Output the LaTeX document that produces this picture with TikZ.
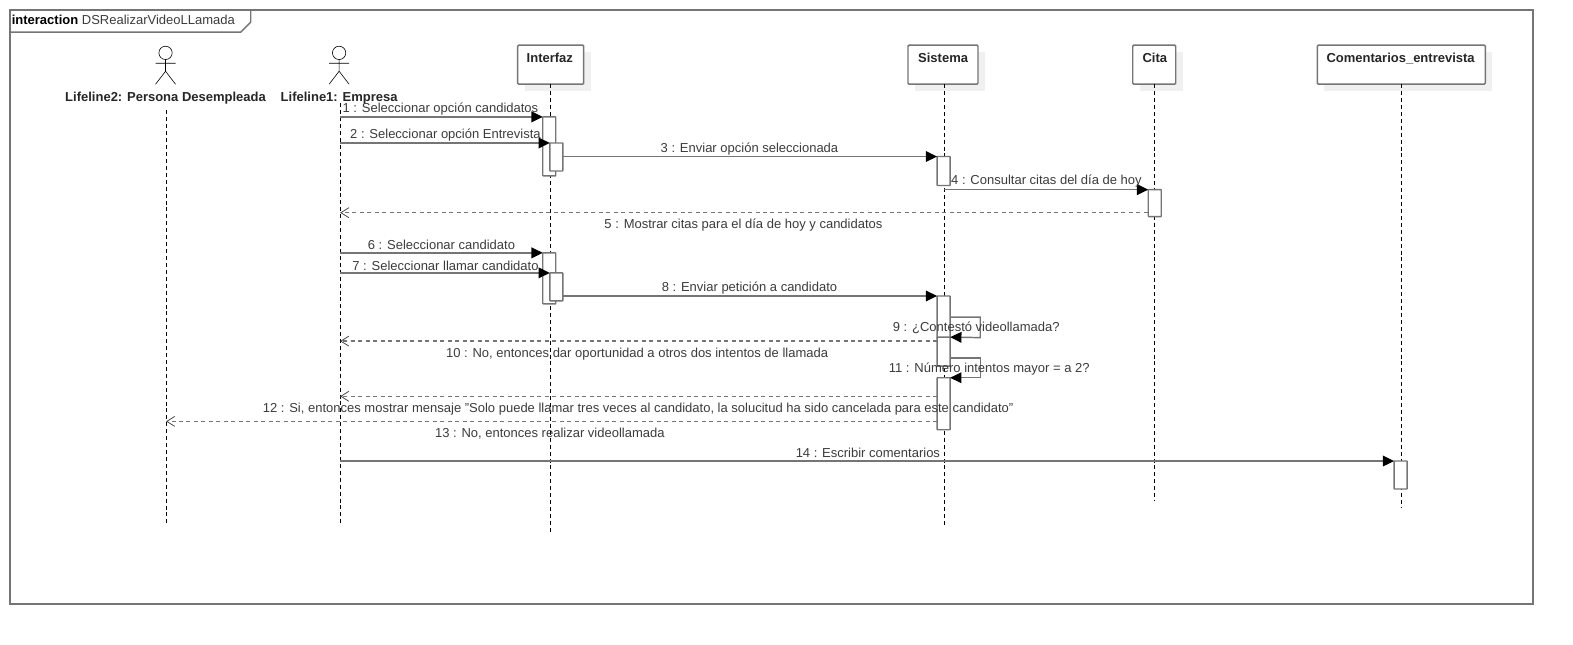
\documentclass[tikz,border=0pt]{standalone}
\usepackage{fontspec}
\setmainfont{Liberation Sans}
\usetikzlibrary{arrows.meta,calc}
\definecolor{umlgray}{HTML}{757575}
\definecolor{shadowgray}{HTML}{F0F0F0}
\definecolor{labelgray}{HTML}{3C3C3C}
\tikzset{
  x=0.7525pt,y=-0.7525pt,
  frameline/.style={draw=umlgray,line width=1.0pt},
  headbox/.style={draw=umlgray,line width=1.1pt,fill=white,rounded corners=0.8pt,anchor=north west,inner sep=0pt,outer sep=0pt},
  boxshadow/.style={fill=shadowgray,draw=none,anchor=north west,inner sep=0pt,outer sep=0pt},
  headtext/.style={font=\fontsize{9.75}{12}\selectfont\bfseries,text=black!85,inner sep=0pt},
  lifeline/.style={draw=black,line width=0.7pt,dash pattern=on 3pt off 2.2pt},
  act/.style={draw=umlgray,line width=1.0pt,fill=white,minimum width=9.75pt,inner sep=0pt,outer sep=0pt,anchor=north,rounded corners=0.4pt},
  msg/.style={draw=umlgray,line width=1.1pt,-{Triangle[length=8.5pt,width=8pt,color=black]}},
  selfmsg/.style={draw=umlgray,line width=1.1pt,-{Triangle[length=8.5pt,width=8pt,color=black]}},
  ret/.style={draw=umlgray,line width=1.0pt,dash pattern=on 3pt off 2.6pt,-{Straight Barb[length=6pt,width=7.5pt,color=black!70,line width=0.6pt]}},
  mlabel/.style={font=\fontsize{9.75}{12}\selectfont,text=labelgray,inner sep=0pt},
  actorline/.style={draw=black,line width=0.45pt},
}
\begin{document}
\begin{tikzpicture}
\useasboundingbox (0,0) rectangle (1567.8,641.9);
\fill[white] (0,0) rectangle (1567.8,641.9);
% frame
\draw[frameline] (10,10) rectangle (1528,602);
\draw[frameline] (10,32) -- (240,32) -- (250,22) -- (250,10);
\node[font=\fontsize{9.75}{12}\selectfont,text=labelgray,inner sep=0pt,anchor=base west] (title) at (11.5,24) {\textbf{\textcolor{black}{interaction}} DSRealizarVideoLLamada};
% head shadows and boxes
\node[boxshadow,minimum width=49.5pt,minimum height=29.25pt] (shI) at (523,52) {};
\node[boxshadow,minimum width=52.5pt,minimum height=29.25pt] (shS) at (912,52) {};
\node[boxshadow,minimum width=32.25pt,minimum height=29.25pt] (shC) at (1136,52) {};
\node[boxshadow,minimum width=126pt,minimum height=29.25pt] (shK) at (1320,52) {};
% lifelines
\coordinate (topL2) at (165.5,110);
\coordinate (endL2) at (165.5,523);
\coordinate (topL1) at (339,103);
\coordinate (endL1) at (339,523);
\coordinate (endI) at (548.5,530);
\coordinate (endS) at (941,523);
\coordinate (endC) at (1151,499);
\coordinate (endK) at (1397,506);
\node[headbox,minimum width=49.5pt,minimum height=29.25pt] (I) at (516,45) {};
\node[headbox,minimum width=52.5pt,minimum height=29.25pt] (S) at (905,45) {};
\node[headbox,minimum width=32.25pt,minimum height=29.25pt] (C) at (1129,45) {};
\node[headbox,minimum width=126pt,minimum height=29.25pt] (K) at (1313,45) {};
\node[headtext] (tI) at (548,58) {Interfaz};
\node[headtext] (tS) at (940,58) {Sistema};
\node[headtext] (tC) at (1151,58) {Cita};
\node[headtext] (tK) at (1396,58) {Comentarios\_entrevista};
\draw[lifeline] (topL2) -- (endL2);
\draw[lifeline] (topL1) -- (endL1);
\draw[lifeline] (I.south -| endI) -- (endI);
\draw[lifeline] (S.south -| endS) -- (endS);
\draw[lifeline] (C.south -| endC) -- (endC);
\draw[lifeline] (K.south -| endK) -- (endK);
% actors
\draw[actorline] (165,52.7) circle (5pt);
\draw[actorline] (165,59.5) -- (165,71) (155,63) -- (175,63) (155,84) -- (165,71) -- (175,84);
\draw[actorline] (338,52.7) circle (5pt);
\draw[actorline] (338,59.5) -- (338,71) (328,63) -- (348,63) (328,84) -- (338,71) -- (348,84);
\node[headtext] (aL2) at (165,98) {Lifeline2: Persona Desempleada};
\node[headtext] (aL1) at (338,98) {Lifeline1: Empresa};
% activations
\node[act,minimum height=44.25pt] (i1) at (547.5,116.5) {};
\node[act,minimum height=21pt] (i2) at (554.5,142.5) {};
\node[act,minimum height=38.25pt] (i3) at (547.5,252) {};
\node[act,minimum height=21pt] (i4) at (554.5,272) {};
\node[act,minimum height=21.75pt] (s1) at (940.5,156) {};
\node[act,minimum height=31.5pt] (s2) at (940.5,295) {};
\node[act,minimum height=21.75pt] (s3) at (940.5,336) {};
\node[act,minimum height=39pt] (s4) at (940.5,376.5) {};
\node[act,minimum height=20.25pt] (c1) at (1151,189) {};
\node[act,minimum height=21pt] (k1) at (1396,459.5) {};
% free ends
\coordinate (m5) at (1144,212);
\coordinate (m9) at (947,316);
\coordinate (m10) at (934,340);
\coordinate (m11) at (947,357);
\coordinate (m12) at (934,395);
\coordinate (m13) at (934,420);
% messages
\draw[msg] (topL1 |- i1.north west) -- (i1.north west);
\draw[msg] (topL1 |- i2.north west) -- (i2.north west);
\draw[msg] (s1.north west -| i2.east) -- (s1.north west);
\draw[msg] (endS |- c1.north west) -- (c1.north west);
\draw[ret] (m5) -- (m5 -| topL1);
\draw[msg] (topL1 |- i3.north west) -- (i3.north west);
\draw[msg] (topL1 |- i4.north west) -- (i4.north west);
\draw[msg] (s2.north west -| i4.east) -- (s2.north west);
\draw[selfmsg] (m9) -- (977,316) -- (977,336.5) -- (s3.north east);
\draw[ret] (m10) -- (m10 -| topL1);
\draw[selfmsg] (m11) -- (977,357) -- (977,376.5) -- (s4.north east);
\draw[ret] (m12) -- (m12 -| topL1);
\draw[ret] (m13) -- (m13 -| topL2);
\draw[msg] (topL1 |- k1.north west) -- (k1.north west);
% labels
\node[mlabel] (l1) at (439,108.5) {1 : Seleccionar opción candidatos};
\node[mlabel] (l2) at (444,134.5) {2 : Seleccionar opción Entrevista};
\node[mlabel] (l3) at (747,148.5) {3 : Enviar opción seleccionada};
\node[mlabel] (l4) at (1043,180.5) {4 : Consultar citas del día de hoy};
\node[mlabel] (l5) at (741,224.5) {5 : Mostrar citas para el día de hoy y candidatos};
\node[mlabel] (l6) at (440,244.5) {6 : Seleccionar candidato};
\node[mlabel] (l7) at (444,264.5) {7 : Seleccionar llamar candidato};
\node[mlabel] (l8) at (747,287.5) {8 : Enviar petición a candidato};
\node[mlabel] (l9) at (973,326.5) {9 : ¿Contestó videollamada?};
\node[mlabel] (l10) at (635,352.5) {10 : No, entonces dar oportunidad a otros dos intentos de llamada};
\node[mlabel] (l11) at (986,367.5) {11 : Número intentos mayor = a 2?};
\node[mlabel] (l12) at (636,407.5) {12 : Si, entonces mostrar mensaje "Solo puede llamar tres veces al candidato, la solucitud ha sido cancelada para este candidato"};
\node[mlabel] (l13) at (548,432.5) {13 : No, entonces realizar videollamada};
\node[mlabel] (l14) at (865,451.5) {14 : Escribir comentarios};
\end{tikzpicture}
\end{document}
